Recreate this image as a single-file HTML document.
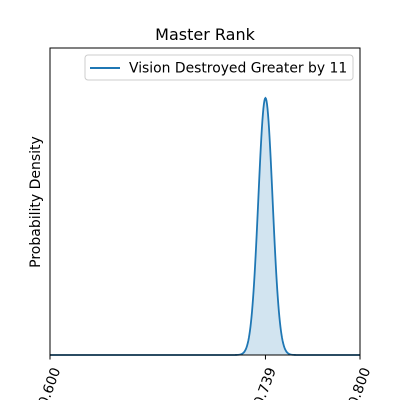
<!DOCTYPE html>
<html><head><meta charset="utf-8"><style>body{margin:0;background:#fff}svg{display:block;font-family:"DejaVu Sans","Liberation Sans",sans-serif}</style></head>
<body>
<svg id="chart" width="400" height="400">
<text x="205" y="40" text-anchor="middle" font-size="16">Master Rank</text>
<text transform="translate(40,202) rotate(-90)" text-anchor="middle" font-size="14">Probability Density</text>
<g id="plot"></g>
<rect x="50" y="48" width="310" height="307" fill="none" stroke="#000" stroke-width="1"/>
<g>
<rect x="85" y="55" width="268" height="25" rx="3" fill="#fff" stroke="#ccc"/>
<line x1="90" y1="68" x2="120" y2="68" stroke="#1f77b4" stroke-width="2"/>
<text x="129" y="72.5" font-size="13.9">Vision Destroyed Greater by 11</text>
</g>
<g id="ticks"></g>
</svg>
<script>
const mean = 0.739;
const sd = 0.0046;
const tickValues = [0.600, 0.739, 0.800];
const tickLabels = ["0.600", "0.739", "0.800"];
const xMin = 0.6, xMax = 0.8;
const peakFrac = 0.837;
const NS = "http://www.w3.org/2000/svg";
const x = v => 50 + (v - xMin) / (xMax - xMin) * 310;
const pdf = v => Math.exp(-0.5 * ((v - mean) / sd) ** 2) / (sd * Math.sqrt(2 * Math.PI));
const yMax = pdf(mean) / peakFrac;
const y = d => 355 - d / yMax * 307;
let pts = [];
for (let i = 0; i <= 600; i++) { const v = xMin + (xMax - xMin) * i / 600; pts.push([x(v), y(pdf(v))]); }
const line = pts.map((p, i) => (i ? "L" : "M") + p[0].toFixed(2) + "," + p[1].toFixed(2)).join("");
const plot = document.getElementById("plot");
const area = document.createElementNS(NS, "path");
area.setAttribute("d", line + "L360,355L50,355Z");
area.setAttribute("fill", "#1f77b4"); area.setAttribute("fill-opacity", "0.2");


plot.appendChild(area);
const ln = document.createElementNS(NS, "path");
ln.setAttribute("d", line); ln.setAttribute("fill", "none");
ln.setAttribute("stroke", "#1f77b4"); ln.setAttribute("stroke-width", "1.8");


plot.appendChild(ln);
const tg = document.getElementById("ticks");
tickValues.forEach((v, i) => {
  const t = document.createElementNS(NS, "line");
  t.setAttribute("x1", x(v)); t.setAttribute("x2", x(v)); t.setAttribute("y1", 355); t.setAttribute("y2", 359.5);
  t.setAttribute("stroke", "#000");
  
  
  tg.appendChild(t);
  const tx = document.createElementNS(NS, "text");
  tx.setAttribute("transform", `translate(${x(v)},387) rotate(-70)`);
  tx.setAttribute("text-anchor", "middle"); tx.setAttribute("dominant-baseline", "central");
  tx.setAttribute("font-size", "13.9");
  tx.textContent = tickLabels[i];
  
  
  tg.appendChild(tx);
});
</script>
</body></html>
